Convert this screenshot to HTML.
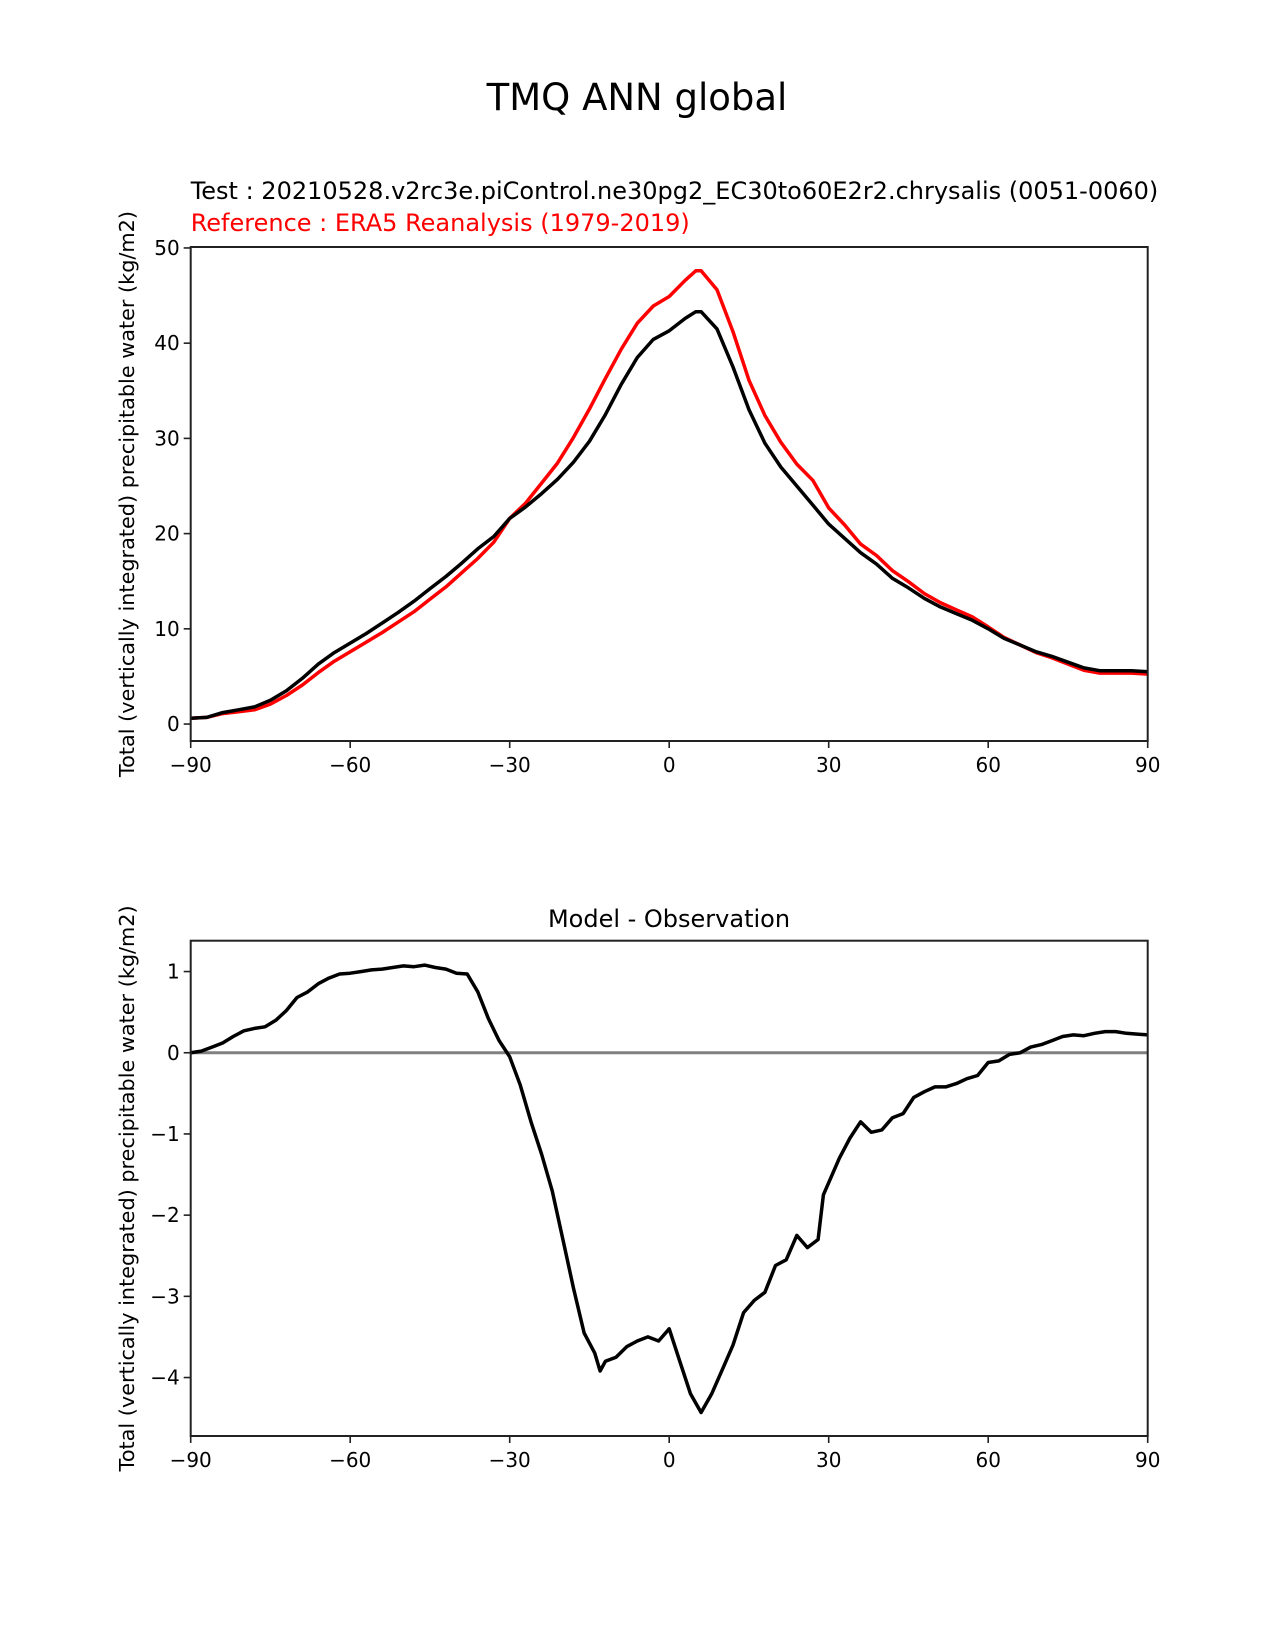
<!DOCTYPE html>
<html><head><meta charset="utf-8"><style>
html,body{margin:0;padding:0;background:#fff}
svg{display:block}
text{font-family:"DejaVu Sans","Liberation Sans",sans-serif}
</style></head><body>
<svg id="fig" width="1275" height="1650" viewBox="0 0 1275 1650" xmlns="http://www.w3.org/2000/svg">
<rect width="1275" height="1650" fill="#fff"/>
<text x="637" y="110" font-size="37" text-anchor="middle">TMQ ANN global</text>
<text x="190.7" y="199" font-size="24">Test : 20210528.v2rc3e.piControl.ne30pg2_EC30to60E2r2.chrysalis (0051-0060)</text>
<text x="190.7" y="231" font-size="24" fill="#ff0000">Reference : ERA5 Reanalysis (1979-2019)</text>
<text x="669" y="927" font-size="24" text-anchor="middle">Model - Observation</text>
<g id="top"></g>
<g id="bot"></g>
</svg>
<script>
const lats = [-90,-87,-84,-81,-78,-75,-72,-69,-66,-63,-60,-57,-54,-51,-48,-45,-42,-39,-36,-33,-30,-27,-24,-21,-18,-15,-12,-9,-6,-3,0,3,5,6,9,12,15,18,21,24,27,30,33,36,39,42,45,48,51,54,57,60,63,66,69,72,75,78,81,84,87,90];
const testVals = [0.6,0.7,1.2,1.5,1.8,2.5,3.5,4.8,6.3,7.5,8.5,9.5,10.6,11.7,12.9,14.2,15.5,16.9,18.4,19.7,21.6,22.8,24.2,25.7,27.5,29.7,32.5,35.7,38.5,40.4,41.3,42.6,43.3,43.3,41.5,37.5,33,29.5,27,25,23,21,19.5,18,16.8,15.3,14.3,13.2,12.3,11.6,10.9,10,9,8.3,7.6,7.1,6.5,5.9,5.6,5.6,5.6,5.5];
const refVals = [0.6,0.7,1.1,1.3,1.5,2.1,3.0,4.1,5.4,6.6,7.6,8.6,9.6,10.7,11.8,13.1,14.4,15.9,17.4,19.1,21.6,23.2,25.3,27.4,30.1,33.1,36.3,39.4,42.1,43.9,44.9,46.6,47.6,47.6,45.6,41.2,36.1,32.4,29.6,27.3,25.6,22.7,20.9,18.9,17.7,16.1,14.95,13.7,12.75,12.0,11.25,10.2,9.1,8.3,7.5,6.95,6.3,5.65,5.35,5.35,5.35,5.25];
const diffLats = [-90,-88,-86,-84,-82,-80,-78,-76,-74,-72,-70,-68,-66,-64,-62,-60,-58,-56,-54,-52,-50,-48,-46,-44,-42,-40,-38,-36,-34,-32,-30,-28,-26,-24,-22,-20,-18,-16,-14,-13,-12,-10,-8,-6,-4,-2,0,2,4,6,8,10,12,14,16,18,20,22,24,26,28,29,30,32,34,36,38,40,42,44,46,48,50,52,54,56,58,60,62,64,66,68,70,72,74,76,78,80,82,84,86,88,90];
const diffVals = [0,0.02,0.07,0.12,0.2,0.27,0.3,0.32,0.4,0.52,0.68,0.75,0.85,0.92,0.97,0.98,1.0,1.02,1.03,1.05,1.07,1.06,1.08,1.05,1.03,0.98,0.97,0.75,0.42,0.15,-0.05,-0.4,-0.85,-1.25,-1.7,-2.3,-2.9,-3.45,-3.7,-3.92,-3.8,-3.75,-3.62,-3.55,-3.5,-3.55,-3.4,-3.8,-4.2,-4.43,-4.2,-3.9,-3.6,-3.2,-3.05,-2.95,-2.62,-2.55,-2.25,-2.4,-2.3,-1.75,-1.6,-1.3,-1.05,-0.85,-0.98,-0.95,-0.8,-0.75,-0.55,-0.48,-0.42,-0.42,-0.38,-0.32,-0.28,-0.12,-0.1,-0.02,0.0,0.07,0.1,0.15,0.2,0.22,0.21,0.24,0.26,0.26,0.24,0.23,0.22];
const xTicks = [-90,-60,-30,0,30,60,90];
const xTickLabels = ["\u221290","\u221260","\u221230","0","30","60","90"];
const topYTicks = [0,10,20,30,40,50];
const topYTickLabels = ["0","10","20","30","40","50"];
const botYTicks = [-4,-3,-2,-1,0,1];
const botYTickLabels = ["\u22124","\u22123","\u22122","\u22121","0","1"];

const NS = "http://www.w3.org/2000/svg";
function mk(tag, attrs, parent){const e=document.createElementNS(NS,tag);for(const k in attrs)e.setAttribute(k,attrs[k]);parent.appendChild(e);return e;}
const X0=190.7,X1=1147.7;
function xScale(v){return X0+(v+90)/180*(X1-X0);}
function makeY(top,bot,vmin,vmax){return v=>bot-(v-vmin)/(vmax-vmin)*(bot-top);}

function axes(g,top,bot,yS,yt,ytl){
  const border=mk('rect',{x:X0,y:top,width:X1-X0,height:bot-top,fill:'none',stroke:'#222',"stroke-width":2},g);
  
  
  xTicks.forEach((t,i)=>{
    const x=xScale(t);
    const tk=mk('line',{x1:x,x2:x,y1:bot,y2:bot+7,stroke:'#222',"stroke-width":1.6},g);
    
    
    const tl=mk('text',{x:x,y:bot+31,"font-size":20,"text-anchor":"middle"},g);
    tl.textContent=xTickLabels[i];
    
    
  });
  yt.forEach((t,i)=>{
    const y=yS(t);
    const tk=mk('line',{x1:X0-7,x2:X0,y1:y,y2:y,stroke:'#222',"stroke-width":1.6},g);
    
    
    const tl=mk('text',{x:X0-11,y:y+7,"font-size":20,"text-anchor":"end"},g);
    tl.textContent=ytl[i];
    
    
  });
  const cy=(top+bot)/2;
  const yl=mk('text',{x:0,y:0,"font-size":20,"text-anchor":"middle",transform:`translate(${134},${cy}) rotate(-90)`,textLength:566,lengthAdjust:"spacingAndGlyphs"},g);
  yl.textContent="Total (vertically integrated) precipitable water (kg/m2)";
  
  
}
function line(g,xs,ys,yS,color,w,name){
  const pts=xs.map((v,i)=>xScale(v).toFixed(1)+','+yS(ys[i]).toFixed(1)).join(' ');
  const p=mk('polyline',{points:pts,fill:'none',stroke:color,"stroke-width":w,"stroke-linejoin":"round"},g);
  
  
}
const gT=document.getElementById('top');
const yT=makeY(247,741,-1.78,50.1);
const cp=mk('clipPath',{id:'cT'},gT);mk('rect',{x:X0,y:247,width:X1-X0,height:494},cp);
const gTl=mk('g',{"clip-path":"url(#cT)"},gT);
line(gTl,lats,refVals,yT,'#ff0000',3.5,'reference-line');
line(gTl,lats,testVals,yT,'#000',3.5,'test-line');
axes(gT,247,741,yT,topYTicks,topYTickLabels);

const gB=document.getElementById('bot');
const yB=makeY(940.7,1436,-4.72,1.38);
const cp2=mk('clipPath',{id:'cB'},gB);mk('rect',{x:X0,y:940.7,width:X1-X0,height:495.3},cp2);
const gBl=mk('g',{"clip-path":"url(#cB)"},gB);
const z=mk('line',{x1:X0,x2:X1,y1:yB(0),y2:yB(0),stroke:'#808080',"stroke-width":3},gBl);


line(gBl,diffLats,diffVals,yB,'#000',3.5,'difference-line');
axes(gB,940.7,1436,yB,botYTicks,botYTickLabels);
</script>
</body></html>
